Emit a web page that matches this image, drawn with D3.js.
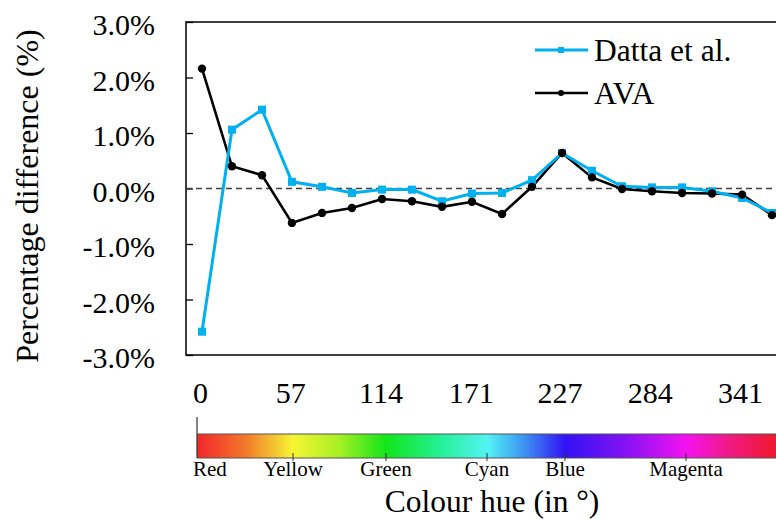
<!DOCTYPE html>
<html>
<head>
<meta charset="utf-8">
<script src="https://cdn.jsdelivr.net/npm/d3@7"></script>
</head>
<body style="margin:0;background:#fff">
<svg id="chart" width="776" height="520" style="display:block"></svg>
<script>
// ---- data ----
const hues = [0, 18.9, 37.9, 56.8, 75.8, 94.7, 113.7, 132.6, 151.6, 170.5,
              189.5, 208.4, 227.4, 246.3, 265.3, 284.2, 303.2, 322.1, 341.1, 360];
const datta = [-2.58, 1.06, 1.42, 0.12, 0.03, -0.08, -0.02, -0.02, -0.23, -0.09,
               -0.08, 0.15, 0.64, 0.32, 0.04, 0.02, 0.02, -0.05, -0.17, -0.44];
const ava = [2.16, 0.40, 0.24, -0.62, -0.44, -0.35, -0.19, -0.23, -0.33, -0.24,
             -0.46, 0.03, 0.64, 0.20, -0.01, -0.05, -0.08, -0.09, -0.11, -0.48];
const xTickLabels = [0, 57, 114, 171, 227, 284, 341];
const yTickValues = [-3, -2, -1, 0, 1, 2, 3];
const seriesNames = ["Datta et al.", "AVA"];
const hueNames = ["Red", "Yellow", "Green", "Cyan", "Blue", "Magenta"];
const hueNameDegrees = [0, 60, 120, 180, 240, 300];

// ---- layout ----
const FONT = '"Liberation Serif"';
const svg = d3.select("#chart");
const plotLeft = 186, plotTop = 22, plotBottom = 355, plotRight = 800;
const x = d3.scaleLinear().domain([0, 360]).range([202, 772]);
const y = d3.scaleLinear().domain([-3, 3]).range([plotBottom, plotTop]);
const blue = "#00b0f0";

function serif(sel, size) {
  return sel.attr("font-family", "Liberation Serif")
    .style("font-family", FONT).style("font-size", size + "px").attr("fill", "#000");
}

// frame
svg.append("rect")
  .attr("x", plotLeft).attr("y", plotTop)
  .attr("width", plotRight - plotLeft).attr("height", plotBottom - plotTop)
  .attr("fill", "none").attr("stroke", "#000").attr("stroke-width", 1.5);

// y axis (ticks inward)
const yAxis = d3.axisLeft(y).tickValues(yTickValues).tickSize(-7)
  .tickFormat(d => d.toFixed(1) + "%").tickPadding(31);
const yg = svg.append("g").attr("transform", `translate(${plotLeft},0)`).call(yAxis);
yg.attr("font-family", "Liberation Serif");
yg.select(".domain").remove();
yg.selectAll(".tick line").attr("stroke", "#000").attr("stroke-width", 1.3);
serif(yg.selectAll(".tick text"), 30).attr("dy", "0.42em");

// x tick labels
const xAxis = d3.axisBottom(x).tickValues(xTickLabels).tickSize(0).tickPadding(0);
const xg = svg.append("g").attr("transform", `translate(-2,${plotBottom})`).call(xAxis);
xg.attr("font-family", "Liberation Serif");
xg.select(".domain").remove();
serif(xg.selectAll(".tick text"), 30).attr("y", 48).attr("dy", 0);

// zero dashed line
svg.append("line")
  .attr("x1", plotLeft).attr("x2", 776)
  .attr("y1", y(0)).attr("y2", y(0))
  .attr("stroke", "#404040").attr("stroke-width", 1.6)
  .attr("stroke-dasharray", "6,4");

// lines
const line = d3.line().x((d, i) => x(hues[i])).y(d => y(d));
svg.append("path").datum(ava).attr("d", line)
  .attr("fill", "none").attr("stroke", "#000").attr("stroke-width", 2.6);
svg.append("path").datum(datta).attr("d", line)
  .attr("fill", "none").attr("stroke", blue).attr("stroke-width", 3);

svg.append("g").selectAll("rect").data(datta).join("rect")
  .attr("x", (d, i) => x(hues[i]) - 4).attr("y", d => y(d) - 4)
  .attr("width", 8).attr("height", 8).attr("fill", blue);
svg.append("g").selectAll("circle").data(ava).join("circle")
  .attr("cx", (d, i) => x(hues[i])).attr("cy", d => y(d)).attr("r", 4.2)
  .attr("fill", "#000");

// legend
const legend = svg.append("g");
const legY = [50, 93];
legend.append("line").attr("x1", 535).attr("x2", 588).attr("y1", legY[0]).attr("y2", legY[0])
  .attr("stroke", blue).attr("stroke-width", 3);
legend.append("rect").attr("x", 558).attr("y", legY[0] - 3).attr("width", 6).attr("height", 6).attr("fill", blue);
legend.append("line").attr("x1", 535).attr("x2", 588).attr("y1", legY[1]).attr("y2", legY[1])
  .attr("stroke", "#000").attr("stroke-width", 2.6);
legend.append("circle").attr("cx", 561).attr("cy", legY[1]).attr("r", 3).attr("fill", "#000");
serif(legend.selectAll("text").data(seriesNames).join("text"), 31.5)
  .attr("x", 594).attr("y", (d, i) => legY[i] + 11).text(d => d);

// y title
serif(svg.append("text"), 32)
  .attr("transform", "translate(38,196) rotate(-90)")
  .attr("text-anchor", "middle")
  .text("Percentage difference (%)");

// ---- colour bar ----
const barX = d3.scaleLinear().domain([0, 60, 120, 180, 240, 300, 360])
  .range([197, 293, 386, 487, 565, 686, 772]);
const barTop = 434, barBottom = 458;
const defs = svg.append("defs");
const grad = defs.append("linearGradient").attr("id", "hueGrad")
  .attr("gradientUnits", "userSpaceOnUse")
  .attr("x1", 197).attr("x2", 776).attr("y1", 0).attr("y2", 0);
const gradStops = [
  [0, "#f2262c"], [30, "#f2782a"], [60, "#f6f534"], [90, "#a6f024"],
  [120, "#12e61a"], [150, "#22f08e"], [180, "#52f4f4"], [210, "#3c8ef2"],
  [240, "#3212f4"], [270, "#8412f4"], [300, "#f412f0"], [330, "#f01a84"],
  [360, "#f01832"]
];
gradStops.forEach(([h, c]) => {
  grad.append("stop").attr("offset", (barX(h) - 197) / (776 - 197)).attr("stop-color", c);
});
svg.append("rect").attr("x", 197).attr("y", barTop)
  .attr("width", 776 - 197).attr("height", barBottom - barTop)
  .attr("fill", "url(#hueGrad)");
svg.append("line").attr("x1", 197).attr("x2", 776).attr("y1", barTop).attr("y2", barTop)
  .attr("stroke", "#555").attr("stroke-width", 1.2);
svg.append("line").attr("x1", 197).attr("x2", 776).attr("y1", barBottom).attr("y2", barBottom)
  .attr("stroke", "#555").attr("stroke-width", 1.2);
svg.append("line").attr("x1", 197).attr("x2", 197).attr("y1", 417).attr("y2", barBottom)
  .attr("stroke", "#333").attr("stroke-width", 1.2);
svg.append("g").selectAll("line").data(hueNameDegrees.slice(1)).join("line")
  .attr("x1", d => barX(d)).attr("x2", d => barX(d))
  .attr("y1", barBottom - 5).attr("y2", barBottom + 3)
  .attr("stroke", "#333").attr("stroke-width", 1);
serif(svg.append("g").selectAll("text").data(hueNames).join("text"), 21)
  .attr("x", (d, i) => i === 0 ? 193 : barX(hueNameDegrees[i]))
  .attr("y", 476)
  .attr("text-anchor", (d, i) => i === 0 ? "start" : "middle")
  .text(d => d);

serif(svg.append("text"), 31.5)
  .attr("x", 492).attr("y", 512).attr("text-anchor", "middle")
  .text("Colour hue (in °)");
</script>
</body>
</html>
